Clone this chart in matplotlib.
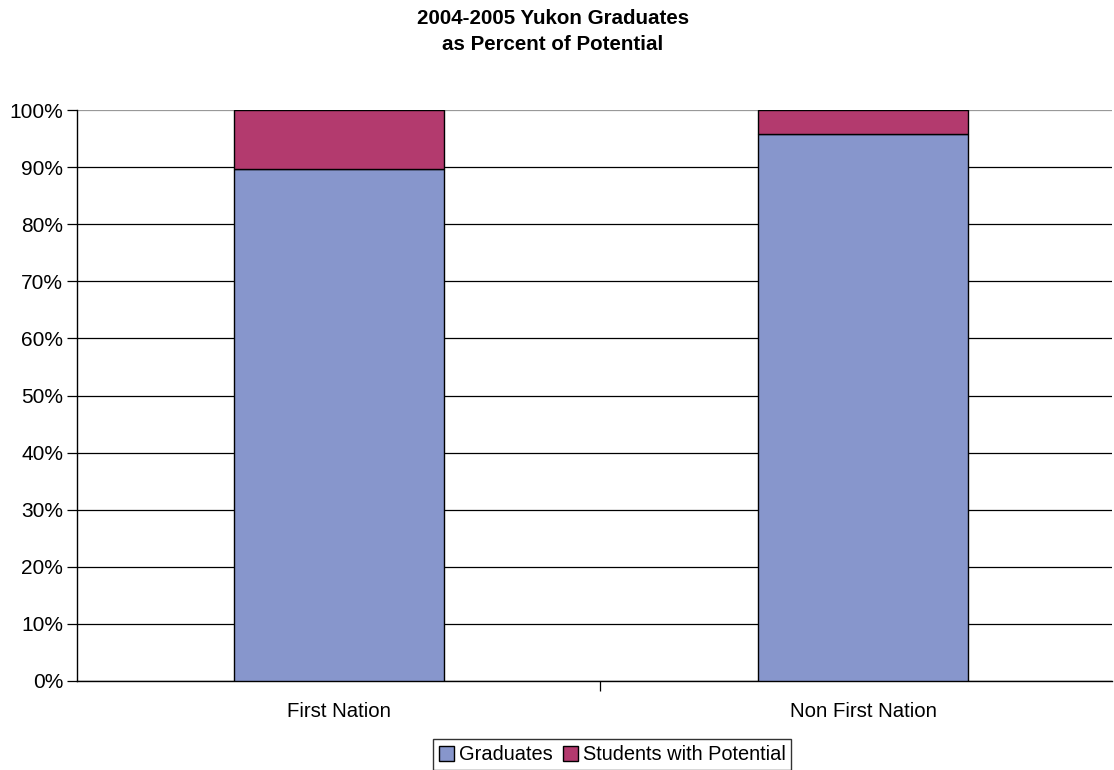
import matplotlib
matplotlib.use("Agg")
import matplotlib.pyplot as plt
from matplotlib.ticker import PercentFormatter

plt.rcParams['font.family'] = ['Liberation Sans', 'DejaVu Sans']

# data (percent)
categories = ["First Nation", "Non First Nation"]
graduates = [89.7, 95.8]
with_potential = [10.3, 4.2]
series_names = ["Graduates", "Students with Potential"]

fig = plt.figure(figsize=(11.14, 7.7), dpi=100)
ax = fig.add_axes([0.0691, 0.1156, 0.9287, 0.7415])

x = range(len(categories))
ax.bar(x, graduates, width=0.40, color="#8796CC", edgecolor="black", linewidth=1,
       label=series_names[0], zorder=3)
ax.bar(x, with_potential, width=0.40, bottom=graduates, color="#B33A6E",
       edgecolor="black", linewidth=1, label=series_names[1], zorder=3)

ax.set_ylim(0, 100)
ax.set_xlim(-0.5, 1.474)
ax.set_yticks(range(0, 101, 10))
ax.yaxis.set_major_formatter(PercentFormatter(decimals=0))
ax.grid(axis="y", color="black", linewidth=0.9, zorder=0)
ax.set_axisbelow(True)
# top gridline shows lighter in the original
ax.get_ygridlines()[-1].set_color("#999999")

# category labels without ticks, boundary tick between them
ax.set_xticks([0.4976])
ax.set_xticklabels([""])
ax.tick_params(axis="x", length=7, width=0.9, direction="out")
for i, c in enumerate(categories):
    ax.text(i, -3.7, c, ha="center", va="top", fontsize=14.7)

ax.tick_params(axis="y", length=7, width=0.9, labelsize=15, pad=3)
for s in ["top", "right"]:
    ax.spines[s].set_visible(False)
ax.spines["left"].set_linewidth(1)
ax.spines["bottom"].set_linewidth(1)

fig.text(0.4965, 0.959, "2004-2005 Yukon Graduates\nas Percent of Potential",
         ha="center", va="center", fontsize=14.8, fontweight="bold", linespacing=1.45)

leg = fig.legend(loc="center", bbox_to_anchor=(0.5495, 0.0195), ncol=2, fontsize=14.4,
                 frameon=True, fancybox=False, edgecolor="black", handlelength=0.75,
                 handleheight=0.75, handletextpad=0.25, columnspacing=0.5,
                 borderpad=0.3, borderaxespad=0)
leg.get_frame().set_linewidth(1)

fig.savefig("out.png", dpi=100)
